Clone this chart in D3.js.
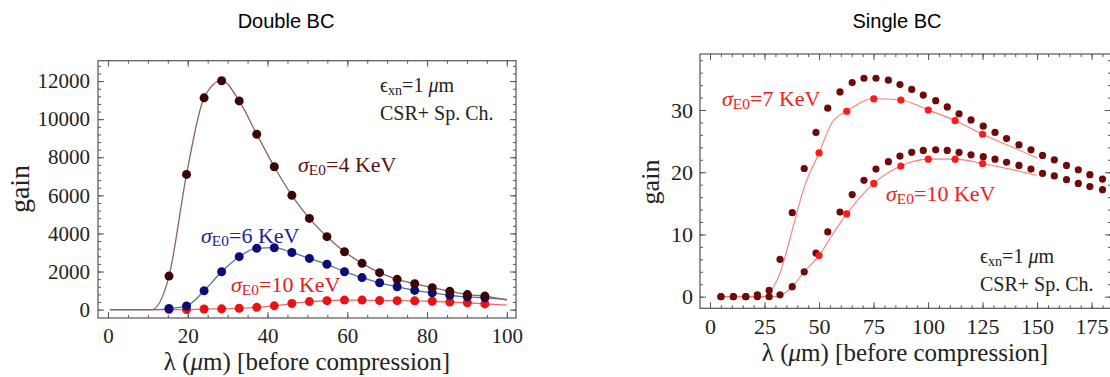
<!DOCTYPE html>
<html>
<head>
<meta charset="utf-8">
<script src="https://cdn.jsdelivr.net/npm/d3@7"></script>
<style>
  body { margin: 0; background: #fff; }
  svg { display: block; }
  .tick text { font-family: "Liberation Serif", "DejaVu Serif", serif; fill: #222; }
  .tick line { stroke: #555; }
</style>
</head>
<body>
<script>
// ---- Double BC (left panel) ----
var dblLambda = [15.3, 19.7, 24.1, 28.5, 32.9, 37.3, 41.7, 46.1, 50.5, 54.9, 59.3, 63.7, 68.1, 72.5, 76.9, 81.3, 85.7, 90.1, 94.5]
var dblGain4 = [1760, 7100, 11120, 12020, 10960, 9210, 7500, 6000, 4790, 3830, 3040, 2430, 1940, 1590, 1360, 1150, 960, 790, 710]
var dblGain6 = [60, 190, 990, 1990, 2780, 3220, 3250, 3000, 2690, 2380, 1990, 1680, 1410, 1200, 1010, 880, 750, 670, 620]
var dblGain10 = [0, 0, 30, 40, 70, 120, 200, 320, 420, 470, 500, 500, 480, 470, 460, 440, 400, 360, 300]
// curve ends that carry no marker
var dblCurveStart = [0.5, 0]
var dblCurveFlat = [11, 13, 17]   // last lambda where each curve is still flat (4, 6, 10 KeV)
var dblCurveEnd = [[100, 500], [100, 540], [100, 240]]
var dblXTicks = [0, 20, 40, 60, 80, 100]
var dblYTicks = [0, 2000, 4000, 6000, 8000, 10000, 12000]

// ---- Single BC (right panel) ----
var sglLambda = [5.0, 10.7, 16.4, 21.7, 27.1, 32.1, 37.7, 43.2, 48.6, 54.0, 59.6, 65.2, 70.6, 76.1, 81.8, 87.1, 92.5, 97.8, 103.5, 108.8, 114.2, 119.7, 125.3, 130.7, 136.0, 141.7, 147.2, 152.5, 157.9, 163.5, 168.9, 174.2, 180.0]
var sglDark7 = [0, 0, 0, 0.3, 1.0, 6.0, 13.5, 20.6, 26.4, 30.3, 32.9, 34.4, 35.1, 35.1, 34.8, 34.1, 33.3, 32.4, 31.5, 30.5, 29.4, 28.4, 27.4, 26.4, 25.4, 24.4, 23.6, 22.7, 22.0, 21.1, 20.4, 19.6, 18.9]
var sglDark10 = [0, 0, 0, 0, 0, 0.3, 1.6, 4.0, 7.0, 10.4, 13.6, 16.4, 18.7, 20.5, 21.7, 22.6, 23.2, 23.5, 23.6, 23.5, 23.2, 22.8, 22.5, 22.1, 21.6, 21.1, 20.5, 19.8, 19.4, 18.8, 18.2, 17.7, 17.2]
var sglRedLambda = [50, 62.7, 75.1, 87.5, 100.1, 112.4, 125]
var sglRed7 = [23.1, 29.8, 31.8, 31.6, 30.0, 28.3, 26.1]
var sglRed10 = [6.6, 13.3, 18.2, 21.0, 22.1, 22.1, 21.4]
var sglCurveLambda7 = [5, 25, 27, 32, 37.7, 43.2, 50, 56, 62.7, 75.1, 87.5, 100.1, 112.4, 125, 137.5, 150]
var sglCurve7 = [0, 0, 0.6, 3.7, 10.7, 17.6, 23.1, 28.0, 29.8, 31.8, 31.6, 30.0, 28.3, 26.1, 24.2, 22.3]
var sglCurveLambda10 = [5, 30, 33, 37.7, 43.2, 50, 56, 62.7, 75.1, 87.5, 100.1, 112.4, 125, 137.5, 150]
var sglCurve10 = [0, 0, 0.3, 1.6, 4.0, 6.6, 9.9, 13.3, 18.2, 21.0, 22.1, 22.1, 21.4, 20.5, 19.5]
var sglXTicks = [0, 25, 50, 75, 100, 125, 150, 175]
var sglYTicks = [0, 10, 20, 30]

var W = 1110, H = 377
var serif = '"Liberation Serif", "DejaVu Serif", serif'

var svg = d3.select("body").append("svg")
  .attr("width", W)
  .attr("height", H)

function zip(xs, ys) {
  var out = []
  for (var i = 0; i < xs.length; i++) out.push([xs[i], ys[i]])
  return out
}

function range(a, b, step) {
  var out = []
  for (var v = a; v <= b + 1e-9; v += step) out.push(+v.toFixed(6))
  return out
}

// frame with inward ticks on all four sides
function makeFrame(p) {
  var x = d3.scaleLinear().domain(p.xDomain).range([p.left, p.right])
  var y = d3.scaleLinear().domain(p.yDomain).range([p.bottom, p.top])
  var g = svg.append("g")

  var xMinor = range(p.xTicks[0], p.xDomain[1], p.xMinor)
  var yMinor = range(p.yTicks[0], p.yDomain[1], p.yMinor)

  // minor ticks
  g.append("g").attr("transform", "translate(0," + p.bottom + ")")
    .call(d3.axisBottom(x).tickValues(xMinor).tickSize(-3).tickFormat(""))
  g.append("g").attr("transform", "translate(0," + p.top + ")")
    .call(d3.axisTop(x).tickValues(xMinor).tickSize(-3).tickFormat(""))
  g.append("g").attr("transform", "translate(" + p.left + ",0)")
    .call(d3.axisLeft(y).tickValues(yMinor).tickSize(-3).tickFormat(""))
  g.append("g").attr("transform", "translate(" + p.right + ",0)")
    .call(d3.axisRight(y).tickValues(yMinor).tickSize(-3).tickFormat(""))

  // major ticks + labels
  g.append("g").attr("transform", "translate(0," + p.bottom + ")")
    .call(d3.axisBottom(x).tickValues(p.xTicks).tickSize(-6).tickPadding(10).tickFormat(d3.format("d")))
  g.append("g").attr("transform", "translate(0," + p.top + ")")
    .call(d3.axisTop(x).tickValues(p.xTicks).tickSize(-6).tickFormat(""))
  g.append("g").attr("transform", "translate(" + p.left + ",0)")
    .call(d3.axisLeft(y).tickValues(p.yTicks).tickSize(-6).tickPadding(p.yPad).tickFormat(d3.format("d")))
  g.append("g").attr("transform", "translate(" + p.right + ",0)")
    .call(d3.axisRight(y).tickValues(p.yTicks).tickSize(-6).tickFormat(""))

  g.selectAll(".domain").remove()
  g.selectAll(".tick text").style("font-size", p.tickFont + "px")

  g.append("rect")
    .attr("x", p.left).attr("y", p.top)
    .attr("width", p.right - p.left).attr("height", p.bottom - p.top)
    .attr("fill", "none").attr("stroke", "#555").attr("stroke-width", 1.2)

  // titles
  svg.append("text")
    .attr("x", p.titleX).attr("y", 28)
    .attr("text-anchor", "middle")
    .style("font-family", '"Liberation Sans", Arial, sans-serif')
    .style("font-size", "20px")
    .attr("fill", "#000")
    .text(p.title)

  svg.append("text")
    .attr("transform", "translate(" + p.gainX + "," + p.gainY + ") rotate(-90)")
    .attr("text-anchor", "middle")
    .style("font-family", serif)
    .style("font-size", p.gainFont + "px")
    .attr("fill", "#222")
    .text("gain")

  svg.append("text")
    .attr("x", p.lamX).attr("y", p.lamY)
    .attr("text-anchor", "middle")
    .style("font-family", serif)
    .style("font-size", "25px")
    .attr("fill", "#222")
    .html('\u03BB (<tspan font-style="italic">\u03BC</tspan>m) [before compression]')

  return [x, y]
}

function sigmaLabel(x, y, value, color, size) {
  var t = svg.append("text")
    .attr("x", x).attr("y", y)
    .style("font-family", serif)
    .style("font-size", size + "px")
    .attr("fill", color)
  t.append("tspan").attr("font-style", "italic").text("\u03C3")
  t.append("tspan").attr("font-size", (size * 0.7) + "px").attr("dy", 3).text("E0")
  t.append("tspan").attr("dy", -3).text("=" + value + " KeV")
}

function emitLabel(x, y, size) {
  var t = svg.append("text")
    .attr("x", x).attr("y", y)
    .style("font-family", serif)
    .style("font-size", size + "px")
    .attr("fill", "#222")
  t.append("tspan").text("\u03F5")
  t.append("tspan").attr("font-size", (size * 0.7) + "px").attr("dy", 3).text("xn")
  t.append("tspan").attr("dy", -3).text("=1 ")
  t.append("tspan").attr("font-style", "italic").text("\u03BC")
  t.append("tspan").text("m")
  svg.append("text")
    .attr("x", x).attr("y", y + 28)
    .style("font-family", serif)
    .style("font-size", size + "px")
    .attr("fill", "#222")
    .text("CSR+ Sp. Ch.")
}

function drawLine(x, y, pts, color, width) {
  var line = d3.line()
    .x(function(d) { return x(d[0]) })
    .y(function(d) { return y(d[1]) })
    .curve(d3.curveMonotoneX)
  svg.append("path")
    .datum(pts)
    .attr("d", line)
    .attr("fill", "none")
    .attr("stroke", color)
    .attr("stroke-width", width)
}

function drawDots(x, y, pts, color, r) {
  svg.append("g").selectAll("circle")
    .data(pts)
    .enter()
    .append("circle")
    .attr("cx", function(d) { return x(d[0]) })
    .attr("cy", function(d) { return y(d[1]) })
    .attr("r", r)
    .attr("fill", color)
}

// ---------- left panel ----------
var left = makeFrame({
  left: 98, right: 516, top: 60.7, bottom: 318,
  xDomain: [-2.5, 102.3], yDomain: [-440, 13070],
  xTicks: dblXTicks, yTicks: dblYTicks, xMinor: 5, yMinor: 400, yPad: 8, tickFont: 21,
  title: "Double BC", titleX: 286,
  gainX: 29, gainY: 189, gainFont: 28, lamX: 307, lamY: 370
})
var lx = left[0], ly = left[1]

var dblSets = [
  {gain: dblGain10, dot: "#e81414", line: "#ee6a6a"},
  {gain: dblGain6, dot: "#0c0c78", line: "#5c6aa8"},
  {gain: dblGain4, dot: "#3a0606", line: "#8a6464"}
]
var flatIdx = [2, 1, 0]
dblSets.forEach(function(s, i) {
  var k = flatIdx[i]
  var pts = [dblCurveStart, [dblCurveFlat[k], 0]]
    .concat(zip(dblLambda, s.gain).filter(function(d) { return d[0] > dblCurveFlat[k] }))
    .concat([dblCurveEnd[k]])
  drawLine(lx, ly, pts, s.line, 1.3)
})
dblSets.forEach(function(s) {
  drawDots(lx, ly, zip(dblLambda, s.gain), s.dot, 4.5)
})

sigmaLabel(298, 172, "4", "#5a1414", 22)
sigmaLabel(201, 243, "6", "#22229a", 22)
sigmaLabel(231, 292, "10", "#e02020", 22)
emitLabel(380, 92, 20)

// ---------- right panel ----------
var right = makeFrame({
  left: 700, right: 1111, top: 54, bottom: 308.3,
  xDomain: [-4.6, 183.9], yDomain: [-1.87, 39],
  xTicks: sglXTicks, yTicks: sglYTicks, xMinor: 5, yMinor: 2, yPad: 7, tickFont: 22,
  title: "Single BC", titleX: 897,
  gainX: 659, gainY: 182, gainFont: 26, lamX: 905, lamY: 361
})
var rx = right[0], ry = right[1]

drawLine(rx, ry, zip(sglCurveLambda7, sglCurve7), "#ff7a7a", 1.1)
drawLine(rx, ry, zip(sglCurveLambda10, sglCurve10), "#ff7a7a", 1.1)
drawDots(rx, ry, zip(sglLambda, sglDark7), "#6e0a0a", 3.6)
drawDots(rx, ry, zip(sglLambda, sglDark10), "#6e0a0a", 3.6)
drawDots(rx, ry, zip(sglRedLambda, sglRed7), "#ff1a1a", 3.6)
drawDots(rx, ry, zip(sglRedLambda, sglRed10), "#ff1a1a", 3.6)

sigmaLabel(722, 106, "7", "#f02020", 22)
sigmaLabel(886, 201, "10", "#f02020", 22)
emitLabel(980, 263, 20)
</script>
</body>
</html>
